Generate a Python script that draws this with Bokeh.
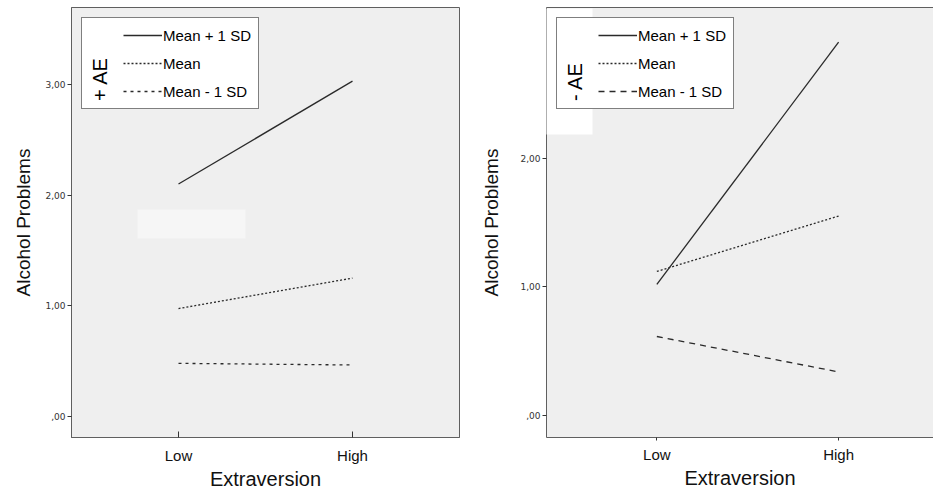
from bokeh.plotting import figure
from bokeh.layouts import row
from bokeh.models import (Range1d, FixedTicker, LinearAxis, BoxAnnotation)
from bokeh.embed import file_html
from bokeh.resources import INLINE

# ---- data ----
x_labels = ["Low", "High"]
series_names = ["Mean + 1 SD", "Mean", "Mean - 1 SD"]
pos_ae_plus = [2.10, 3.03]
pos_ae_mean = [0.975, 1.25]
pos_ae_minus = [0.48, 0.465]
neg_ae_plus = [1.02, 2.90]
neg_ae_mean = [1.12, 1.55]
neg_ae_minus = [0.615, 0.34]
left_yticks = [0, 1, 2, 3]
right_yticks = [0, 1, 2]
ytick_labels = [",00", "1,00", "2,00", "3,00"]
x_title = "Extraversion"
y_title = "Alcohol Problems"

xs = list(range(len(x_labels)))
LINE = "#2a2a2a"
BORDER = "#5f5f5f"
BG = "#efefef"
FONT = "Liberation Sans"


def make_fig(width, xr, yr, yticks, mb_left, mb_right, mb_bottom, ylab_standoff):
    p = figure(width=width, height=493, x_range=Range1d(*xr), y_range=Range1d(*yr),
               output_backend="svg", toolbar_location=None,
               min_border_left=mb_left, min_border_right=mb_right,
               min_border_top=7, min_border_bottom=mb_bottom)
    p.background_fill_color = BG
    p.border_fill_color = "white"
    p.grid.visible = False
    # x axis
    xa = p.xaxis[0]
    xa.ticker = FixedTicker(ticks=xs)
    xa.major_label_overrides = {i: s for i, s in zip(xs, x_labels)}
    xa.minor_tick_line_color = None
    xa.major_label_text_font = FONT
    xa.major_label_text_font_size = "15px"
    xa.major_label_text_color = "#111111"
    xa.axis_line_color = BORDER
    xa.major_tick_line_color = "#333333"
    xa.axis_label = x_title
    xa.axis_label_text_font = FONT
    xa.axis_label_text_font_size = "20px"
    xa.axis_label_text_font_style = "normal"
    xa.axis_label_text_color = "#111111"
    xa.axis_label_standoff = 1
    # y axis
    ya = p.yaxis[0]
    ya.ticker = FixedTicker(ticks=yticks)
    ya.major_label_overrides = {t: ytick_labels[t] for t in yticks}
    ya.minor_tick_line_color = None
    ya.major_label_text_font = "DejaVu Sans"
    ya.major_label_text_font_size = "9px"
    ya.major_label_text_color = "#333333"
    ya.major_tick_out = 4
    ya.major_tick_in = 0
    ya.major_label_standoff = 2
    ya.axis_line_color = BORDER
    ya.major_tick_line_color = "#333333"
    ya.axis_label = y_title
    ya.axis_label_text_font = FONT
    ya.axis_label_text_font_size = "19px"
    ya.axis_label_text_font_style = "normal"
    ya.axis_label_text_color = "#111111"
    ya.axis_label_standoff = ylab_standoff
    return p


def add_lines(p, plus, mean, minus, mean_dash, minus_dash):
    p.line(xs, plus, line_color=LINE, line_width=1.3, legend_label=series_names[0])
    p.line(xs, mean, line_color=LINE, line_width=1.3, line_dash=mean_dash,
           legend_label=series_names[1])
    p.line(xs, minus, line_color=LINE, line_width=1.3, line_dash=minus_dash,
           legend_label=series_names[2])


def style_legend(p, title):
    lg = p.legend[0]
    lg.title = title
    lg.title_location = "left"
    lg.title_text_font = FONT
    lg.title_text_font_size = "20px"
    lg.title_text_font_style = "normal"
    lg.title_text_color = "#000000"
    lg.title_standoff = 11
    lg.location = "top_left"
    lg.margin = 10
    lg.padding = 7
    lg.spacing = 8
    lg.glyph_width = 39
    lg.glyph_height = 20
    lg.label_height = 20
    lg.label_standoff = 1
    lg.label_text_font = FONT
    lg.label_text_font_size = "15px"
    lg.label_text_color = "#000000"
    lg.border_line_color = "#000000"
    lg.border_line_width = 1
    lg.background_fill_color = "white"
    lg.background_fill_alpha = 1.0


# ---- left panel (+ AE) ----
p1 = make_fig(470, (-0.615, 1.615), (-0.19, 3.695), left_yticks, 71, 11, 56, 8)
p1.outline_line_color = BORDER
p1.outline_line_width = 1
p1.xaxis[0].major_tick_in = 6
p1.xaxis[0].major_tick_out = 0
p1.xaxis[0].major_label_standoff = 9
p1.add_layout(BoxAnnotation(left=66, right=174, bottom=199, top=228,
                            left_units="screen", right_units="screen",
                            top_units="screen", bottom_units="screen",
                            fill_color="#f6f6f6", fill_alpha=1, line_color=None,
                            level="underlay"))
add_lines(p1, pos_ae_plus, pos_ae_mean, pos_ae_minus, "2 2", "3 4")
style_legend(p1, "+ AE")

# ---- right panel (- AE) ----
p2 = make_fig(463, (-0.607, 1.522), (-0.169, 3.169), right_yticks, 76, 0, 52, 15)
p2.outline_line_color = None
p2.xaxis[0].major_tick_in = 0
p2.xaxis[0].major_tick_out = 3
p2.xaxis[0].major_label_standoff = 5
top_axis = LinearAxis(ticker=FixedTicker(ticks=[]), major_tick_in=0, major_tick_out=0,
                      minor_tick_in=0, minor_tick_out=0, major_label_standoff=0,
                      axis_line_color=BORDER)
p2.add_layout(top_axis, "above")
p2.add_layout(BoxAnnotation(left=-3, right=46, bottom=303, top=429,
                            left_units="screen", right_units="screen",
                            top_units="screen", bottom_units="screen",
                            fill_color="white", fill_alpha=1, line_color=None))
add_lines(p2, neg_ae_plus, neg_ae_mean, neg_ae_minus, "2 2", "6 5")
style_legend(p2, "- AE")

layout = row(p1, p2)
open("out.html", "w").write(file_html(layout, INLINE))
